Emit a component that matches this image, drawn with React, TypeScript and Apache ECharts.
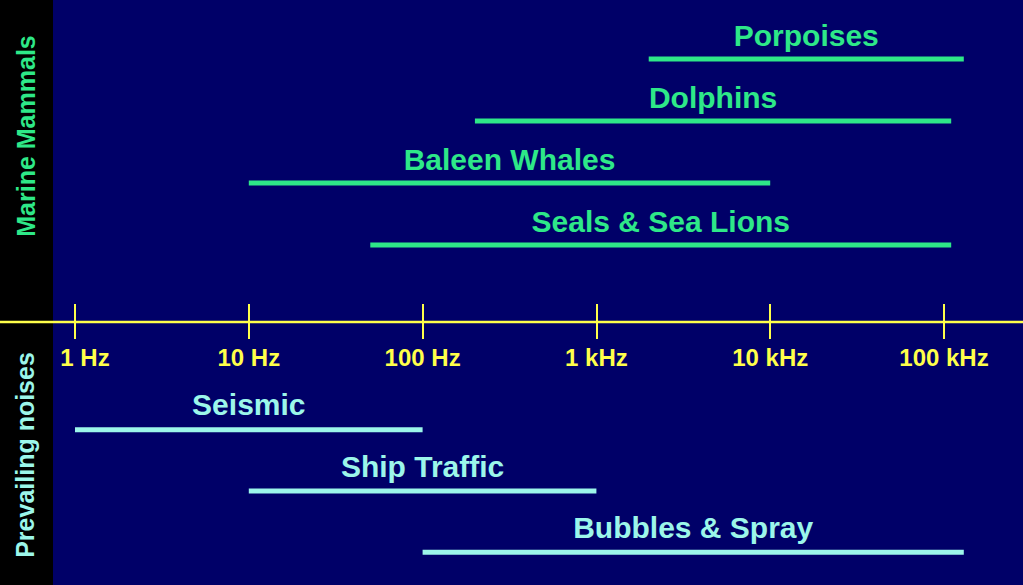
import React, { useEffect, useRef } from 'react';
import * as echarts from 'echarts';

// Frequency ranges (Hz)
const mammalNames = ['Porpoises', 'Dolphins', 'Baleen Whales', 'Seals & Sea Lions'];
const mammalLow = [2000, 200, 10, 50];
const mammalHigh = [130000, 110000, 10000, 110000];

const noiseNames = ['Seismic', 'Ship Traffic', 'Bubbles & Spray'];
const noiseLow = [1, 10, 100];
const noiseHigh = [100, 1000, 130000];

const tickLabels = ['1 Hz', '10 Hz', '100 Hz', '1 kHz', '10 kHz', '100 kHz'];

const FONT = '"Liberation Sans", Arial, Helvetica, sans-serif';
const GREEN = '#2ee888';
const CYAN = '#9cf6ea';
const YELLOW = '#ffff4a';

const rangeRenderer = (names: string[], color: string, lift: number) => (params: any, api: any) => {
  const row = api.value(2);
  const a = api.coord([api.value(0), row]);
  const b = api.coord([api.value(1), row]);
  return {
    type: 'group',
    children: [
      {
        type: 'line',
        shape: { x1: a[0], y1: a[1], x2: b[0], y2: b[1] },
        style: { stroke: color, lineWidth: 5 },
      },
      {
        type: 'text',
        x: (a[0] + b[0]) / 2,
        y: a[1] - lift,
        style: {
          text: names[params.dataIndex],
          fill: color,
          font: `bold 30px ${FONT}`,
          textAlign: 'center',
          textVerticalAlign: 'middle',
        },
      },
    ],
  };
};

const logAxis = (gridIndex: number) => ({
  type: 'log' as const,
  gridIndex,
  logBase: 10,
  min: 1,
  max: 100000,
  show: false,
});

const App: React.FC = () => {
  const chartRef = useRef<HTMLDivElement>(null);

  useEffect(() => {
    if (!chartRef.current) return;
    document.body.style.margin = '0';
    const chart = echarts.init(chartRef.current, undefined, { renderer: 'svg' });

    const option: any = {
      animation: false,
      backgroundColor: '#000068',
      grid: [
        { left: 75, right: 79, top: 28, height: 248 },
        { left: 75, right: 79, top: 399, height: 184 },
        { left: 75, right: 79, top: 0, height: 304 },
      ],
      xAxis: [
        logAxis(0),
        logAxis(1),
        {
          type: 'log',
          gridIndex: 2,
          logBase: 10,
          min: 1,
          max: 100000,
          splitNumber: 5,
          axisLine: { show: false },
          axisTick: { show: true, length: 35, lineStyle: { color: YELLOW, width: 2 } },
          splitLine: { show: false },
          axisLabel: {
            color: YELLOW,
            fontSize: 24,
            fontWeight: 'bold',
            fontFamily: FONT,
            margin: 41,
            formatter: (v: number) => {
              const i = Math.round(Math.log10(v));
              const t = tickLabels[i] ?? '';
              return i === 0 ? `{first|${t}}` : t;
            },
            rich: {
              first: {
                color: YELLOW,
                fontSize: 24,
                fontWeight: 'bold',
                fontFamily: FONT,
                padding: [0, 0, 0, 20],
              },
            },
          },
        },
      ],
      yAxis: [
        { type: 'category', gridIndex: 0, data: mammalNames, inverse: true, show: false },
        { type: 'category', gridIndex: 1, data: noiseNames, inverse: true, show: false },
        { type: 'value', gridIndex: 2, show: false },
      ],
      graphic: [
        { type: 'rect', shape: { x: 0, y: 0, width: 53, height: 585 }, style: { fill: '#000' }, z: 1 },
        {
          type: 'line',
          shape: { x1: 0, y1: 322, x2: 1023, y2: 322 },
          style: { stroke: YELLOW, lineWidth: 2.5 },
          z: 5,
        },
        {
          type: 'text',
          x: 26,
          y: 136,
          rotation: Math.PI / 2,
          style: {
            text: 'Marine Mammals',
            fill: GREEN,
            font: `bold 25px ${FONT}`,
            textAlign: 'center',
            textVerticalAlign: 'middle',
          },
          z: 6,
        },
        {
          type: 'text',
          x: 25,
          y: 455,
          rotation: Math.PI / 2,
          style: {
            text: 'Prevailing noises',
            fill: CYAN,
            font: `bold 25px ${FONT}`,
            textAlign: 'center',
            textVerticalAlign: 'middle',
          },
          z: 6,
        },
      ],
      series: [
        {
          type: 'custom',
          xAxisIndex: 0,
          yAxisIndex: 0,
          clip: false,
          encode: { x: [0, 1], y: 2 },
          renderItem: rangeRenderer(mammalNames, GREEN, 24),
          data: mammalNames.map((_, i) => [mammalLow[i], mammalHigh[i], i]),
        },
        {
          type: 'custom',
          xAxisIndex: 1,
          yAxisIndex: 1,
          clip: false,
          encode: { x: [0, 1], y: 2 },
          renderItem: rangeRenderer(noiseNames, CYAN, 25),
          data: noiseNames.map((_, i) => [noiseLow[i], noiseHigh[i], i]),
        },
      ],
    };

    chart.setOption(option);

    return () => {
      chart.dispose();
    };
  }, []);

  return <div ref={chartRef} style={{ width: '1023px', height: '585px' }} />;
};

export default App;
